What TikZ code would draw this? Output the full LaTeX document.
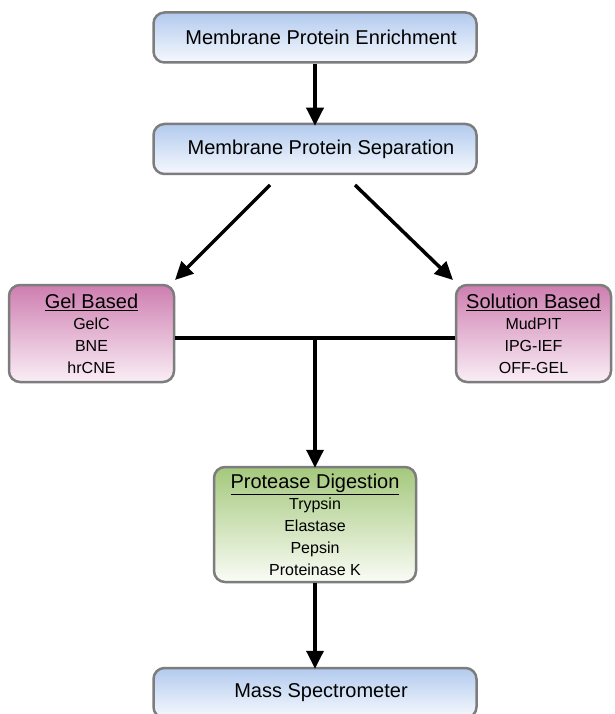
\documentclass[tikz,border=0pt]{standalone}
\usepackage{fontspec}
\setmainfont{Liberation Sans}
\usetikzlibrary{arrows.meta,shadings}
\definecolor{bordergray}{RGB}{125,125,125}
\definecolor{bluetop}{RGB}{178,202,238}
\definecolor{bluebot}{RGB}{246,249,254}
\definecolor{pinktop}{RGB}{206,126,176}
\definecolor{pinkbot}{RGB}{250,238,246}
\definecolor{greentop}{RGB}{164,200,124}
\definecolor{greenbot}{RGB}{250,252,246}
\tikzset{
  box/.style={draw=bordergray, line width=2.5pt, rounded corners=11pt, shading=axis, align=center, inner sep=0pt},
  bluebox/.style={box, top color=bluetop, bottom color=bluebot, minimum width=323pt, minimum height=50pt, font=\fontsize{20}{24}\selectfont},
  pinkbox/.style={box, top color=pinktop, bottom color=pinkbot, font=\fontsize{20}{24}\selectfont},
  greenbox/.style={box, top color=greentop, bottom color=greenbot, font=\fontsize{20}{24}\selectfont},
  conn/.style={line width=3.5pt, black},
  arr/.style={conn, -{Triangle[length=18pt,width=17pt]}}
}
\newcommand{\itemfont}{\fontsize{16}{20}\selectfont}
\begin{document}
\begin{tikzpicture}[x=1pt,y=-1pt]
\clip (0,0) rectangle (614,714);
\fill[white] (0,0) rectangle (614,714);
\node[bluebox] (enr) at (315,37.5) {\hspace*{12pt}Membrane Protein Enrichment};
\node[bluebox] (sep) at (315,149) {\hspace*{12pt}Membrane Protein Separation};
\node[pinkbox, minimum width=165pt, minimum height=97pt] (gel) at (91.5,333.5)
  {\underline{Gel Based}\\[-3pt]{\itemfont GelC}\\[-2pt]{\itemfont BNE}\\[-2pt]{\itemfont hrCNE}};
\node[pinkbox, minimum width=155pt, minimum height=97pt] (sol) at (533.5,333.5)
  {\underline{Solution Based}\\[-3pt]{\itemfont MudPIT}\\[-2pt]{\itemfont IPG-IEF}\\[-2pt]{\itemfont OFF-GEL}};
\node[greenbox, minimum width=202pt, minimum height=115pt] (pro) at (315,524.5)
  {\underline{Protease Digestion}\\[-3pt]{\itemfont Trypsin}\\[-2pt]{\itemfont Elastase}\\[-2pt]{\itemfont Pepsin}\\[-2pt]{\itemfont Proteinase K}};
\node[bluebox] (ms) at (315,693) {\hspace*{12pt}Mass Spectrometer};
\coordinate (sepL) at (270,185);
\coordinate (sepR) at (355,185);
\coordinate (gelT) at (175,280);
\coordinate (solT) at (453,280);
\draw[arr] (enr.south) -- ([yshift=-3pt]sep.north);
\draw[arr] (sepL) -- (gelT);
\draw[arr] (sepR) -- (solT);
\draw[conn] (gel.east |- 0,338) -- (sol.west |- 0,338);
\coordinate (mid) at (315,338);
\draw[arr] (mid) -- ([yshift=-2pt]pro.north);
\draw[arr] (pro.south) -- ([yshift=-2pt]ms.north);
\end{tikzpicture}
\end{document}
